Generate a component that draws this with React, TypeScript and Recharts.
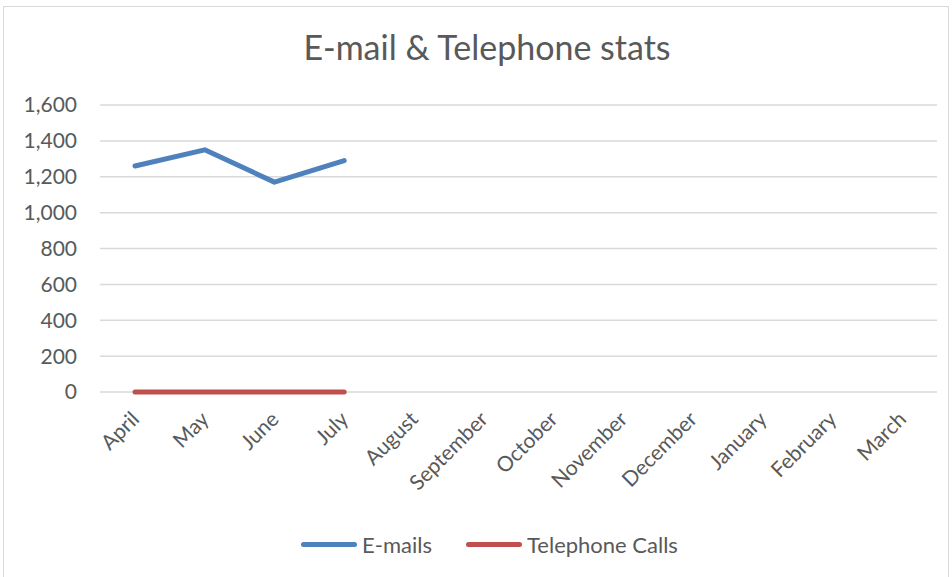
import { CartesianGrid, Legend, Line, LineChart, XAxis, YAxis } from "recharts";

const months = [
  "April",
  "May",
  "June",
  "July",
  "August",
  "September",
  "October",
  "November",
  "December",
  "January",
  "February",
  "March",
];
const emails = [1260, 1350, 1170, 1290, null, null, null, null, null, null, null, null];
const telephoneCalls = [0, 0, 0, 0, null, null, null, null, null, null, null, null];
const yTicks = [0, 200, 400, 600, 800, 1000, 1200, 1400, 1600];

const data = months.map((month, i) => ({
  month,
  emails: emails[i],
  calls: telephoneCalls[i],
}));

const FONT = "Lato, 'Open Sans', sans-serif";
const TEXT = "#595959";
const BLUE = "#4f81bd";
const RED = "#c0504d";

function ChartLegend() {
  const items = [
    { label: "E-mails", color: BLUE },
    { label: "Telephone Calls", color: RED },
  ];
  return (
    <div
      style={{
        display: "flex",
        justifyContent: "center",
        alignItems: "center",
        gap: 34,
        height: 30,
        fontFamily: FONT,
        fontSize: 22,
        color: TEXT,
        paddingLeft: 32,
      }}
    >
      {items.map((it) => (
        <span key={it.label} style={{ display: "flex", alignItems: "center", gap: 5 }}>
          <span style={{ width: 56, height: 5, borderRadius: 3, background: it.color }} />
          {it.label}
        </span>
      ))}
    </div>
  );
}

export default function App() {
  return (
    <div style={{ position: "absolute", left: 0, top: 0, width: 952, height: 577, background: "#fff", overflow: "hidden" }}>
      <div
        style={{
          position: "absolute",
          left: 3,
          top: 6,
          width: 944,
          height: 580,
          border: "1px solid #d9d9d9",
        }}
      />
      <div
        style={{
          position: "absolute",
          left: 0,
          width: 974,
          top: 26,
          textAlign: "center",
          fontFamily: FONT,
          fontSize: 34,
          color: TEXT,
        }}
      >
        E-mail &amp; Telephone stats
      </div>
      <div style={{ position: "absolute", left: 0, top: 0 }}>
        <LineChart
          width={952}
          height={577}
          data={data}
          margin={{ top: 105, right: 15, left: 10, bottom: 18 }}
        >
          <CartesianGrid vertical={false} stroke="#d9d9d9" strokeWidth={1.5} />
          <XAxis
            dataKey="month"
            axisLine={false}
            tickLine={false}
            interval={0}
            height={137}
            padding={{ left: 35, right: 35 }}
            tickSize={0}
            tickMargin={18}
            tick={{ angle: -45, textAnchor: "end", dx: -5, fill: TEXT, fontFamily: FONT, fontSize: 21 }}
          />
          <YAxis
            domain={[0, 1600]}
            ticks={yTicks}
            width={90}
            axisLine={false}
            tickLine={false}
            tickSize={0}
            tickMargin={23}
            tickFormatter={(v: number) => v.toLocaleString("en-US")}
            tick={{ fill: TEXT, fontFamily: FONT, fontSize: 21 }}
          />
          <Legend verticalAlign="bottom" content={() => <ChartLegend />} />
          <Line
            dataKey="emails"
            name="E-mails"
            stroke={BLUE}
            strokeWidth={5}
            strokeLinecap="round"
            strokeLinejoin="round"
            dot={false}
            activeDot={false}
            isAnimationActive={false}
          />
          <Line
            dataKey="calls"
            name="Telephone Calls"
            stroke={RED}
            strokeWidth={5}
            strokeLinecap="round"
            dot={false}
            activeDot={false}
            isAnimationActive={false}
          />
        </LineChart>
      </div>
    </div>
  );
}
